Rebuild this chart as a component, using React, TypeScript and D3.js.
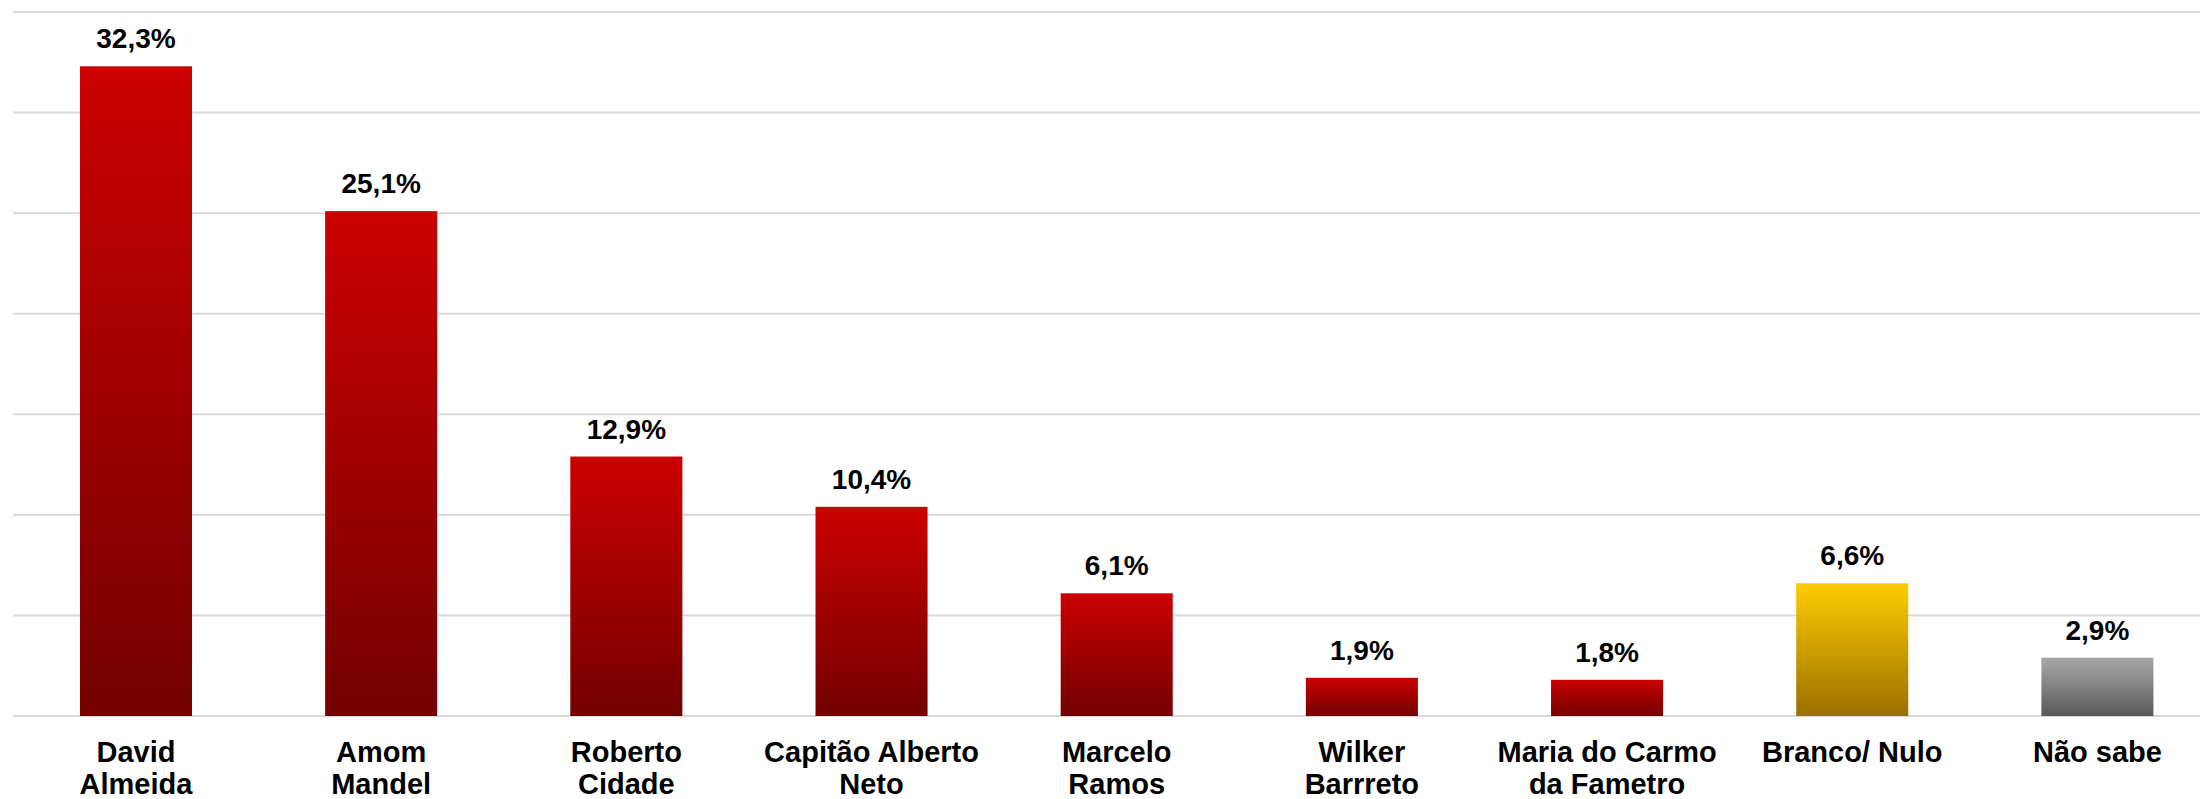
import React, { useEffect, useRef } from "react";
import * as d3 from "d3";

const categories = [
  "David\nAlmeida",
  "Amom\nMandel",
  "Roberto\nCidade",
  "Capitão Alberto\nNeto",
  "Marcelo\nRamos",
  "Wilker\nBarrreto",
  "Maria do Carmo\nda Fametro",
  "Branco/ Nulo",
  "Não sabe",
];
const values = [32.3, 25.1, 12.9, 10.4, 6.1, 1.9, 1.8, 6.6, 2.9];
const yTicks = [0, 5, 10, 15, 20, 25, 30, 35];

const width = 2200;
const height = 799;

const gradients = [
  { id: "grad-red", top: "#cc0000", bottom: "#730000" },
  { id: "grad-yellow", top: "#ffcc00", bottom: "#9a7000" },
  { id: "grad-gray", top: "#a8a8a8", bottom: "#595959" },
];

const gradFor = (name: string) => {
  if (name === "Branco/ Nulo") return "url(#grad-yellow)";
  if (name === "Não sabe") return "url(#grad-gray)";
  return "url(#grad-red)";
};

export default function App() {
  const ref = useRef<SVGSVGElement>(null);

  useEffect(() => {
    const svg = d3.select(ref.current);
    svg.selectAll("*").remove();
    svg.attr("font-family", "'Liberation Sans', Arial, sans-serif");

    // escalas
    const x = d3.scaleBand().domain(categories).range([13.4, 2220]).padding(0);
    const y = d3.scaleLinear().domain([0, 35]).range([716, 12]);
    const barW = x.bandwidth() * 0.457;

    // gradientes
    const defs = svg.append("defs");
    gradients.forEach((g) => {
      const lg = defs
        .append("linearGradient")
        .attr("id", g.id)
        .attr("x1", 0)
        .attr("y1", 0)
        .attr("x2", 0)
        .attr("y2", 1);
      lg.append("stop").attr("offset", "0%").attr("stop-color", g.top);
      lg.append("stop").attr("offset", "100%").attr("stop-color", g.bottom);
    });

    // linhas de grade
    svg
      .append("g")
      .selectAll("line")
      .data(yTicks)
      .join("line")
      .attr("x1", 13)
      .attr("x2", width)
      .attr("y1", (d) => y(d))
      .attr("y2", (d) => y(d))
      .attr("stroke", "#d9d9d9")
      .attr("stroke-width", 2);

    // barras
    const bar = svg
      .append("g")
      .selectAll("g")
      .data(categories)
      .join("g")
      .attr("transform", (d) => `translate(${x(d)! + x.bandwidth() / 2},0)`);

    bar
      .append("rect")
      .attr("x", -barW / 2)
      .attr("width", barW)
      .attr("y", (d, i) => y(values[i]))
      .attr("height", (d, i) => y(0) - y(values[i]))
      .attr("fill", (d) => gradFor(d));

    // rótulos de valor
    bar
      .append("text")
      .attr("text-anchor", "middle")
      .attr("font-size", 28)
      .attr("font-weight", "bold")
      .attr("fill", "#000")
      .attr("y", (d, i) => y(values[i]) - 18)
      .text((d, i) => d3.format(".1f")(values[i]).replace(".", ",") + "%");

    // rótulos das categorias
    bar
      .append("text")
      .attr("text-anchor", "middle")
      .attr("font-size", 29)
      .attr("font-weight", "bold")
      .attr("fill", "#000")
      .attr("y", 762)
      .selectAll("tspan")
      .data((d) => d.split("\n"))
      .join("tspan")
      .attr("x", 0)
      .attr("dy", (d, i) => (i === 0 ? 0 : 32))
      .text((d) => d);
  }, []);

  return (
    <svg
      ref={ref}
      width={width}
      height={height}
      style={{ position: "absolute", left: 0, top: 0, background: "#fff" }}
    />
  );
}
